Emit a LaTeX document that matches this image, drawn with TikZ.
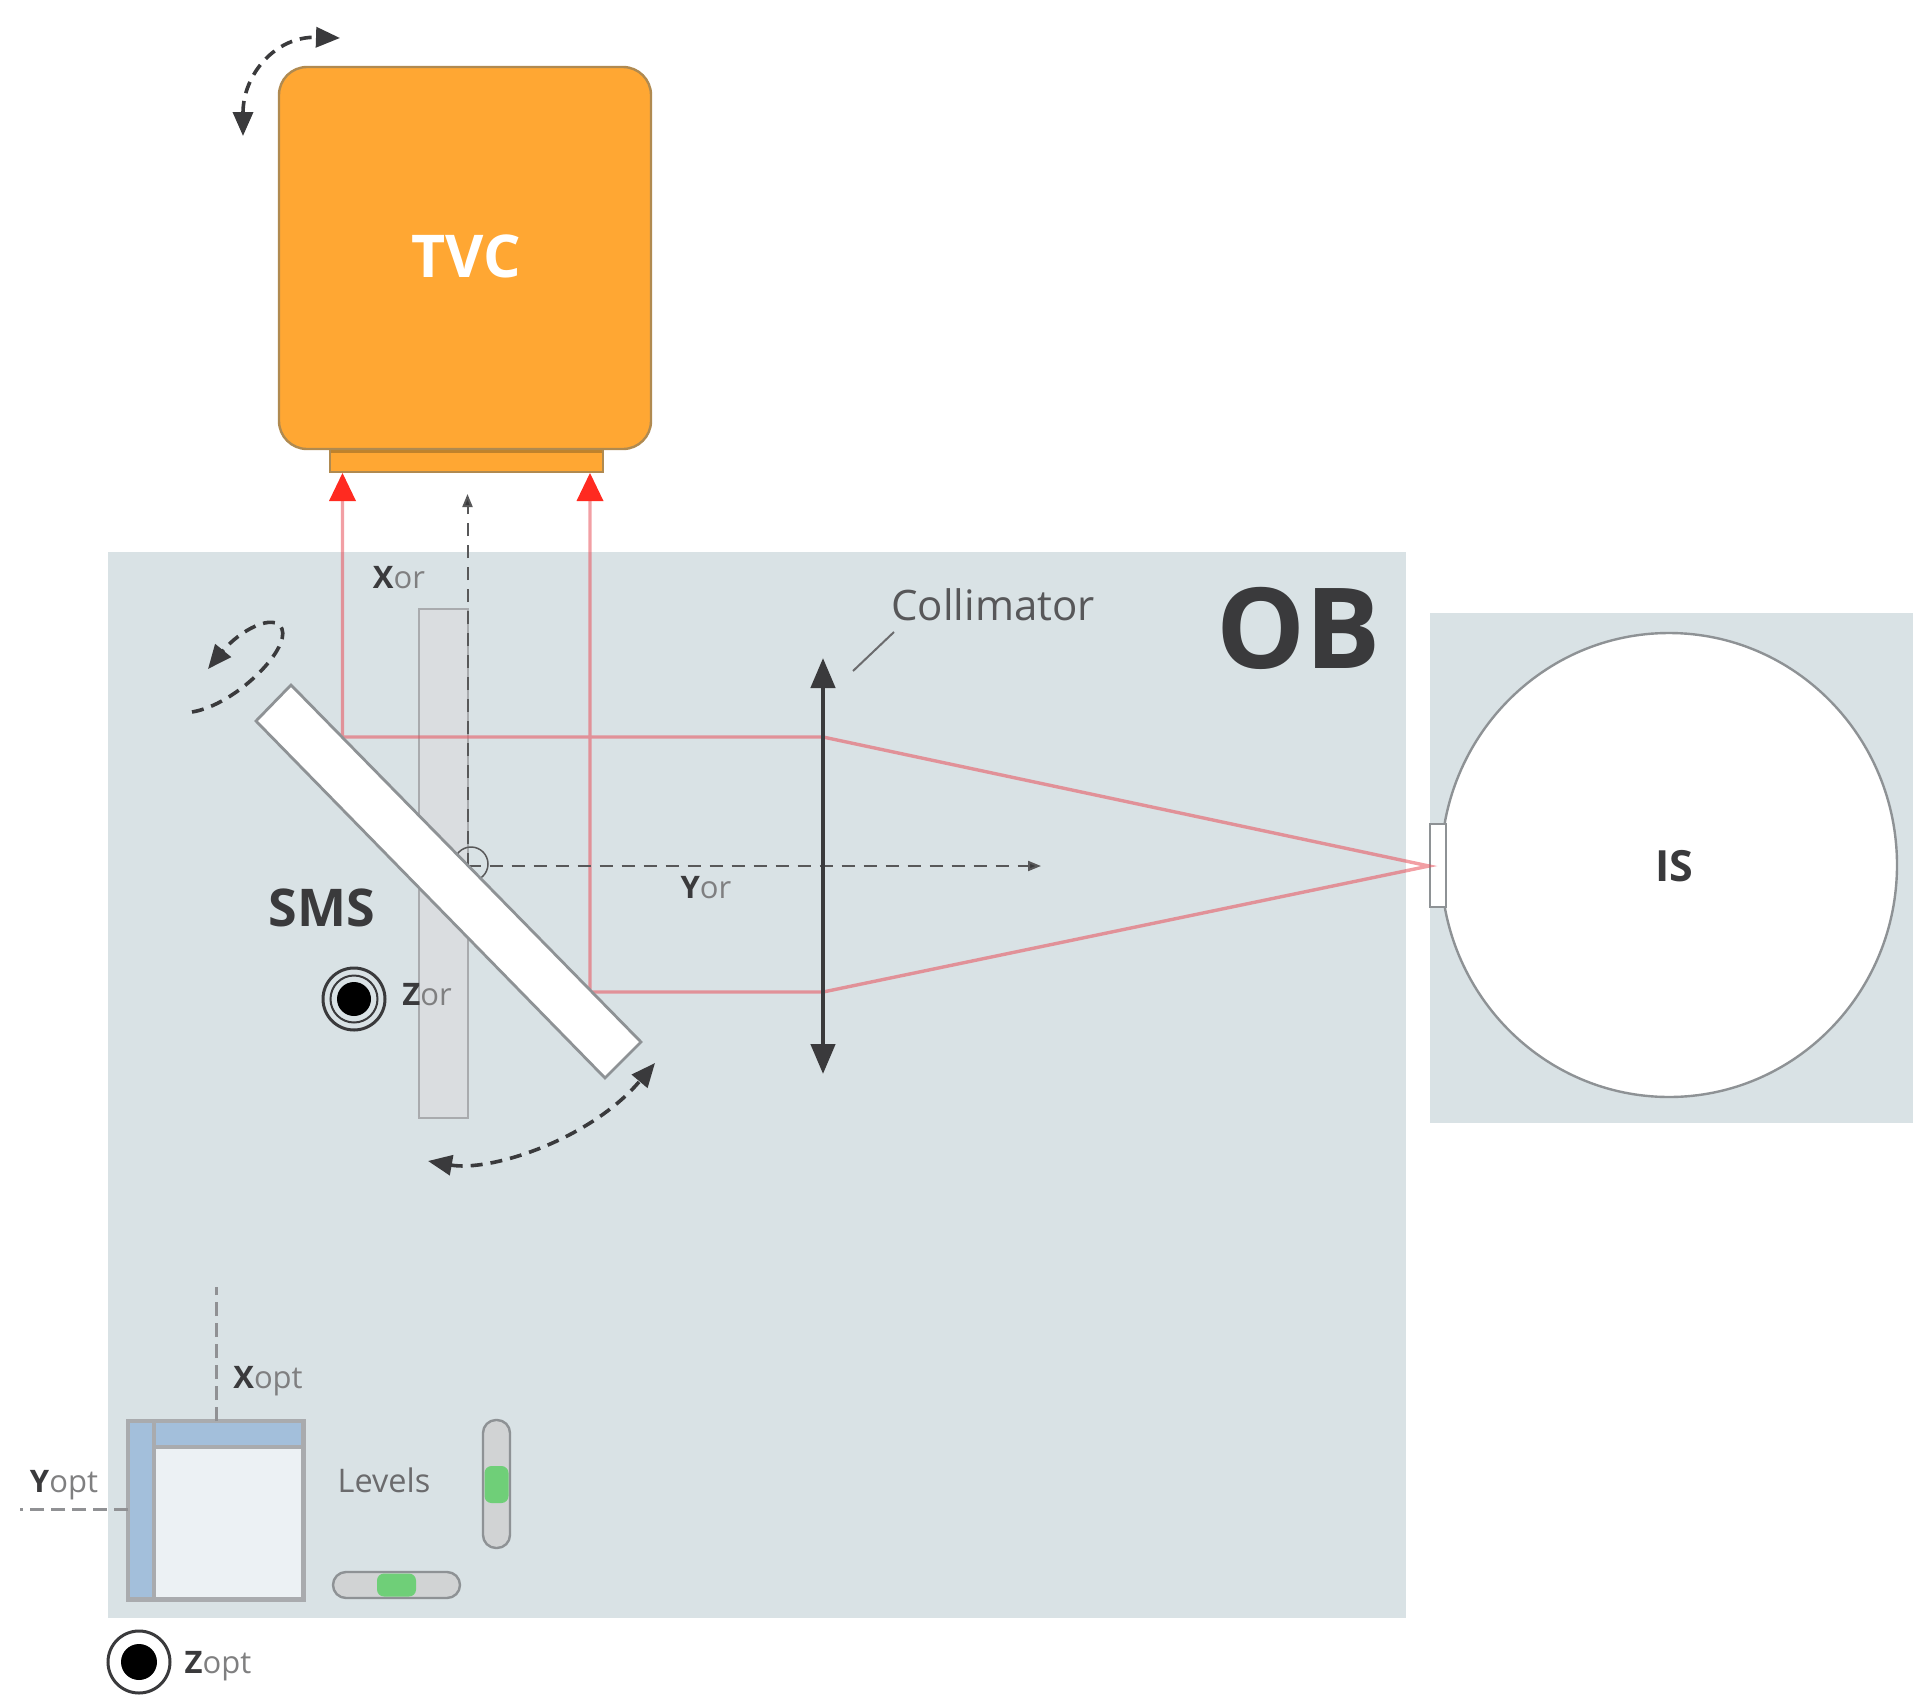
\documentclass[tikz,border=0pt]{standalone}
\usepackage{fontspec}
\setmainfont{Open Sans}
\usetikzlibrary{arrows.meta,shapes.geometric}
\definecolor{panel}{HTML}{D9E2E5}
\definecolor{tvcfill}{HTML}{FFA733}
\definecolor{tvcedge}{HTML}{B08A50}
\definecolor{flangedark}{HTML}{C0822B}
\definecolor{ink}{HTML}{3A3A3C}
\definecolor{midgrey}{HTML}{8E9295}
\definecolor{framegrey}{HTML}{A9ABAE}
\definecolor{slab}{HTML}{DADDE0}
\definecolor{blueband}{HTML}{A3BFDB}
\definecolor{glass}{HTML}{ECF1F4}
\definecolor{vial}{HTML}{D1D3D4}
\definecolor{bubble}{HTML}{6FCF78}
\definecolor{beam}{HTML}{E8505A}
\definecolor{headred}{HTML}{FF2A20}
\tikzset{
  x=1pt,y=-1pt,
  beamline/.style={draw=beam,opacity=.55,line width=3.4pt},
  axisline/.style={draw=ink!85,line width=2pt,dash pattern=on 13pt off 9pt},
  axisgrey/.style={draw=framegrey!85!black,line width=3pt,dash pattern=on 14pt off 7pt},
  rotarrow/.style={draw=ink,line width=3.6pt,dash pattern=on 12pt off 8pt,
     {Triangle[length=24pt,width=20pt,fill=ink]}-{Triangle[length=24pt,width=20pt,fill=ink]}},
  redhead/.style={draw=none,fill=headred},
  labl/.style={inner sep=0pt,text=ink},
  small/.style={labl,font=\fontsize{31}{34}\selectfont},
}
\newcommand{\axlabel}[2]{{\bfseries #1}{\color{ink!65}#2}}
\begin{document}
\begin{tikzpicture}
\useasboundingbox (0,0) rectangle (1920,1702);
% panels
\fill[panel] (108,552) rectangle (1406,1618);
\fill[panel] (1430,613) rectangle (1913,1123);
% camera
\draw[fill=tvcfill,draw=tvcedge,line width=2pt] (330,440) rectangle (603,472);
\fill[flangedark] (331,445) rectangle (602,453);
\draw[fill=tvcfill,draw=tvcedge,line width=2.4pt,rounded corners=28pt] (279,67) rectangle (651,449);
\node[inner sep=0pt,text=white,font=\fontsize{59}{62}\selectfont\bfseries] (tvc) at (466,256) {TVC};
\coordinate (rotA) at (243,136); \coordinate (rotB) at (340,38);
\draw[rotarrow] (rotA) .. controls (243,75) and (275,36) .. (rotB);
% sliding slab
\draw[fill=slab,draw=framegrey,line width=2pt] (418.5,609) rectangle (467.5,1118);
% integrating sphere
\node[ellipse,draw=midgrey,fill=white,line width=2.4pt,minimum width=456pt,minimum height=464pt,inner sep=0pt] (is) at (1669,865) {};
\draw[fill=white,draw=midgrey,line width=1.5pt] (1430,824) rectangle (1446,907);
\node[labl,font=\fontsize{43}{46}\selectfont\bfseries] (istext) at (1674,866) {IS};
% beam
\coordinate (focus) at (1429,866);
\coordinate (lensT) at (823,737); \coordinate (lensB) at (823,992);
\coordinate (foldT) at (342.5,737); \coordinate (foldB) at (590,992);
\coordinate (inT) at (342.5,500); \coordinate (inB) at (590,500);
\coordinate (tipT) at (342.5,473); \coordinate (tipB) at (590,473);
\draw[beamline] (inT) -- (foldT) -- (lensT) -- (focus) -- (lensB) -- (foldB) -- (inB);
\fill[redhead] (tipT) -- ++(13.5,28) -- ++(-27,0) -- cycle;
\fill[redhead] (tipB) -- ++(13.5,28) -- ++(-27,0) -- cycle;
% axes of the mirror
\coordinate (orig) at (467.5,866);
\coordinate (xtip) at (467.5,494);
\coordinate (ytip) at (1041,866);
\draw[axisline,-{Triangle[length=13pt,width=10pt,fill=ink]}] (orig) -- (xtip);
\draw[axisline,-{Triangle[length=13pt,width=10pt,fill=ink]}] (orig) -- (ytip);
\node[circle,draw=ink!85,line width=1.5pt,minimum size=34pt,inner sep=0pt] (origc) at (471,864) {};
% mirror
\draw[fill=white,draw=midgrey,line width=2.8pt] (291,685) -- (256,721) -- (605,1078) -- (641,1042) -- cycle;
\coordinate (rotC) at (428,1161); \coordinate (rotD) at (655,1063);
\draw[rotarrow] (rotC) .. controls (490,1172) and (590,1140) .. (rotD);
\coordinate (rotE) at (192,712); \coordinate (rotF) at (208,669);
\draw[draw=ink,line width=3.6pt,dash pattern=on 12pt off 8pt,-{Triangle[length=24pt,width=20pt,fill=ink]}]
  (rotE) .. controls (235,705) and (290,650) .. (282,629) .. controls (275,612) and (240,630) .. (rotF);
% lens
\coordinate (colT) at (823,658); \coordinate (colB) at (823,1074);
\draw[draw=ink,line width=4.5pt,{Triangle[length=30pt,width=24pt,fill=ink]}-{Triangle[length=30pt,width=24pt,fill=ink]}] (colT) -- (colB);
% labels
\node[labl,text=ink!85,font=\fontsize{42}{46}\selectfont] (coll) at (993,605) {Collimator};
\coordinate (leadA) at (853,671); \coordinate (leadB) at (894,632);
\draw[draw=ink!75,line width=2pt] (leadA) -- (leadB);
\node[labl,font=\fontsize{112}{116}\selectfont\bfseries] (ob) at (1299,628) {OB};
\node[labl,font=\fontsize{52}{56}\selectfont\bfseries] (sms) at (322,908) {SMS};
\node[small] (xor) at (399,578) {\axlabel{X}{or}};
\node[small] (yor) at (706,888) {\axlabel{Y}{or}};
\node[small] (zor) at (427,995) {\axlabel{Z}{or}};
% bullseye Z or
\node[circle,draw=ink,line width=3pt,minimum size=62pt,inner sep=0pt] (zoro) at (354,999) {};
\node[circle,draw=ink,line width=2pt,minimum size=47pt,inner sep=0pt] (zorm) at (354,999) {};
\node[circle,fill=black,minimum size=34pt,inner sep=0pt] (zorc) at (354,999) {};
% optical frame
\draw[fill=glass,draw=framegrey,line width=5pt] (128,1421) rectangle (303,1599);
\draw[fill=blueband,draw=framegrey,line width=4pt] (154,1421) rectangle (303,1447);
\draw[fill=blueband,draw=framegrey,line width=4pt] (128,1421) rectangle (154,1599);
\coordinate (xoptA) at (216,1421); \coordinate (xoptB) at (216,1287);
\coordinate (yoptA) at (128,1509); \coordinate (yoptB) at (20,1509);
\draw[axisgrey] (xoptA) -- (xoptB);
\draw[axisgrey] (yoptA) -- (yoptB);
\node[small] (xopt) at (268,1381) {\axlabel{X}{opt}};
\node[small] (yopt) at (64,1485) {\axlabel{Y}{opt}};
\node[small] (zopt) at (218,1666) {\axlabel{Z}{opt}};
\node[labl,text=ink!75,font=\fontsize{32.5}{35}\selectfont] (lev) at (384,1480) {Levels};
% levels
\draw[fill=vial,draw=midgrey,line width=2.4pt,rounded corners=13pt] (483,1420) rectangle (510,1548);
\fill[bubble,rounded corners=7pt] (484.5,1466) rectangle (508.5,1503);
\draw[fill=vial,draw=midgrey,line width=2.4pt,rounded corners=13pt] (333,1572) rectangle (460,1598);
\fill[bubble,rounded corners=7pt] (377,1573.5) rectangle (416,1596.5);
% bullseye Z opt
\node[circle,draw=ink,line width=3pt,fill=white,minimum size=62pt,inner sep=0pt] (zopo) at (139,1662) {};
\node[circle,fill=black,minimum size=36pt,inner sep=0pt] (zopc) at (139,1662) {};
\end{tikzpicture}
\end{document}
